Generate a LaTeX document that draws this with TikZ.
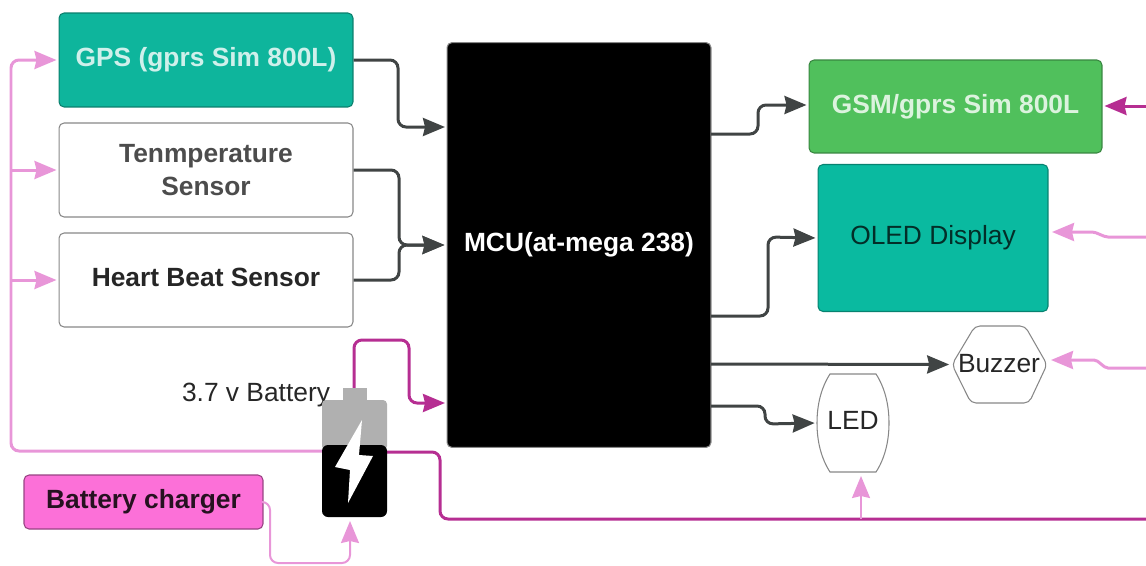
\documentclass[tikz,border=0pt]{standalone}
\usepackage{fontspec}
\setmainfont{Liberation Sans}
\usetikzlibrary{arrows.meta}
\definecolor{gpsteal}{RGB}{14, 181, 156}
\definecolor{oledteal}{RGB}{10, 186, 160}
\definecolor{gsmgreen}{RGB}{80, 192, 92}
\definecolor{chargerpink}{RGB}{252, 112, 216}
\definecolor{wiredark}{RGB}{64, 68, 68}
\definecolor{powerlight}{RGB}{232, 150, 216}
\definecolor{powerdark}{RGB}{182, 46, 146}
\definecolor{boxedge}{RGB}{135, 135, 135}
\definecolor{batgray}{RGB}{176, 176, 176}
\tikzset{
  label font/.style={font=\fontsize{15}{19}\selectfont},
  block/.style={label font, rectangle, rounded corners=0.1cm, inner sep=0pt, align=center, draw=boxedge, line width=0.6pt},
  boldblock/.style={block, font=\fontsize{15}{19}\selectfont\bfseries},
  wire/.style={wiredark, line width=0.06cm, rounded corners=0.16cm, shorten >=0.04cm,
    -{Stealth[length=0.44cm, width=0.36cm, inset=0.04cm]}},
  lightwire/.style={wire, powerlight},
  thinwire/.style={lightwire, line width=0.04cm},
  jogwire/.style={lightwire, rounded corners=0.04cm},
  darkwire/.style={wire, powerdark},
}

\begin{document}
\begin{tikzpicture}[x=0.02cm, y=-0.02cm]
  \useasboundingbox (0, 0) rectangle (1146, 565);

  \node[boldblock, fill=gpsteal, draw=gpsteal!70!black, text=gpsteal!20!white, minimum width=5.88cm, minimum height=1.88cm] (gps) at (206, 60) {GPS (gprs Sim 800L)};
  \node[boldblock, text=black!70, minimum width=5.88cm, minimum height=1.88cm] (temp) at (206, 170) {Tenmperature\\Sensor};
  \node[boldblock, text=black!85, minimum width=5.88cm, minimum height=1.88cm] (heart) at (206, 280) {\raisebox{0.12cm}{Heart Beat Sensor}};
  \node[boldblock, fill=black, text=white, minimum width=5.28cm, minimum height=8.1cm] (mcu) at (579, 245) {MCU(at-mega 238)};
  \node[boldblock, fill=gsmgreen, draw=gsmgreen!70!black, text=gsmgreen!20!white, minimum width=5.86cm, minimum height=1.86cm] (gsm) at (955.5, 106.5) {GSM/gprs Sim 800L};
  \node[block, fill=oledteal, draw=oledteal!70!black, text=oledteal!25!black, minimum width=4.6cm, minimum height=2.94cm] (oled) at (933, 238) {OLED Display};
  \node[boldblock, fill=chargerpink, draw=chargerpink!60!black, text=chargerpink!15!black, minimum width=4.78cm, minimum height=1.08cm] (charger) at (143.5, 502) {\raisebox{-0.08cm}{Battery charger}};

  % buzzer and led outlines
  \node[label font, inner sep=0pt, minimum width=1.9cm, minimum height=1.54cm, text=black!85] (buzzer) at (999, 364.5) {\raisebox{0.05cm}{Buzzer}};
  \draw[boxedge, line width=0.6pt, rounded corners=0.1cm] (975, 326) -- (1025, 326) -- (1047, 364.5) -- (1029, 403) -- (971, 403) -- (952, 364.5) -- cycle;
  \node[label font, inner sep=0pt, minimum width=1.44cm, minimum height=1.96cm, text=black!85] (led) at (853, 423) {\raisebox{0.1cm}{LED}};
  \draw[boxedge, line width=0.6pt] (830, 374) -- (876, 374)
    .. controls (885, 388) and (889, 405) .. (889, 423)
    .. controls (889, 441) and (885, 458) .. (876, 472) -- (830, 472)
    .. controls (821, 458) and (817, 441) .. (817, 423)
    .. controls (817, 405) and (821, 388) .. (830, 374) -- cycle;

  % battery
  \node[inner sep=0pt, minimum width=1.3cm, minimum height=2.34cm] (battery) at (354.5, 458) {};
  \node[label font, inner sep=0pt, text=black!85] (batterylabel) at (256, 395) {\raisebox{-0.1cm}{3.7 v Battery}};

  \coordinate (rail) at (11, 451);
  \coordinate (gsmfeed) at (1146, 106);
  \coordinate (oledfeed) at (1146, 237);
  \coordinate (buzzerfeed) at (1146, 368);
  \coordinate (busend) at (1146, 519);

  % signal wires
  \draw[wire] (gps.east) -- (398, 60) -- (398, 127) -- (447, 127);
  \draw[wire] (temp.east) -- (399, 170) -- (399, 245) -- (mcu.west);
  \draw[wire] (heart.east) -- (399, 280) -- (399, 245) -- (mcu.west);
  \draw[wire] (711, 134) -- (758, 134) -- (758, 105) -- (gsm.west |- 0, 105);
  \draw[wire] (711, 316) -- (768, 316) -- (768, 237) -- (oled.west);
  \draw[wire] (711, 364) -- (buzzer.west);
  \draw[wire] (711, 406) -- (765, 406) -- (765, 424) -- (led.west);

  % power wires
  \draw[lightwire] (322, 451) -- (rail) -- (rail |- gps.west) -- (gps.west);
  \foreach \n in {temp, heart} {
    \draw[lightwire] (rail |- \n.west) -- (\n.west);
  }
  \draw[thinwire] (charger.east) -- (270, 502) -- (270, 563) -- (350, 563) -- (350, 519);
  \draw[darkwire] (354, 390) -- (354, 340) -- (409, 340) -- (409, 403) -- (447, 403);
  \draw[powerdark, line width=0.06cm, rounded corners=0.16cm] (387, 452) -- (440, 452) -- (440, 519) -- (busend);
  \draw[thinwire] (861, 519) -- (861, 474);
  \draw[darkwire] (gsmfeed) -- (gsm.east |- gsmfeed);
  \draw[jogwire] (oledfeed) -- (1106, 237) -- (1094, 232) -- (1050, 232);
  \draw[jogwire] (buzzerfeed) -- (1106, 368) -- (1096, 360) -- (1049, 360);

  % battery body
  \fill[batgray] (343, 388) rectangle (367, 402);
  \fill[batgray, rounded corners=0.08cm] (322, 450) -- (322, 400) -- (387, 400) -- (387, 450) -- cycle;
  \fill[black, rounded corners=0.12cm] (322, 445) rectangle (387, 517);
  \fill[batgray] (322, 440) rectangle (387, 445);
  \fill[white] (362, 420) -- (335, 467) -- (350, 470) -- (348, 503) -- (373, 456) -- (359, 455) -- cycle;
\end{tikzpicture}
\end{document}
